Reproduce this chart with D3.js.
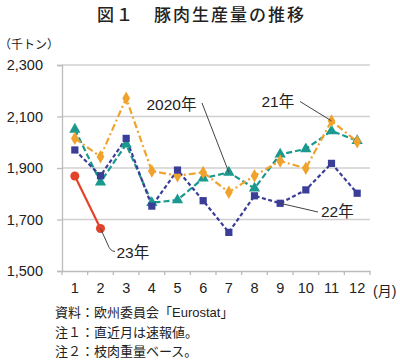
<!DOCTYPE html>
<html><head><meta charset="utf-8">
<script src="https://cdn.jsdelivr.net/npm/d3@7"></script>
<style>
body{margin:0;background:#fff;}
svg{display:block;font-family:"Liberation Sans",Arial,"Noto Sans CJK JP",sans-serif;}
.jp{font-family:"Noto Sans CJK JP",sans-serif;}
</style></head><body>
<svg id="c" width="400" height="362"></svg>
<script>
const months = [1,2,3,4,5,6,7,8,9,10,11,12];
const yTicks = [1500,1700,1900,2100,2300];
const s2020 = [2050,1845,1992,1765,1776,1860,1883,1821,1953,1974,2044,2006];
const s2021 = [2015,1944,2171,1888,1870,1883,1806,1870,1927,1899,2083,2002];
const s2022 = [1970,1870,2015,1752,1892,1773,1650,1792,1763,1815,1918,1802];
const s2023 = [1869,1665];

const svg = d3.select("#c");
const L=62,R=370,T=65,B=271;
const x = d3.scaleBand().domain(months).range([L,R]);
const y = d3.scaleLinear().domain([1500,2300]).range([B,T]);
const cx = m => x(m)+x.bandwidth()/2;

// title
svg.append("text").attr("class","jp").attr("x",97).attr("y",21)
  .attr("font-size",17).attr("font-weight",500).attr("letter-spacing",2).attr("fill","#222")
  .text("図１　豚肉生産量の推移");
svg.append("text").attr("class","jp").attr("x",-1).attr("y",49).attr("font-size",12).attr("fill","#222").text("（千トン）");

// grid
svg.append("g").selectAll("line").data(yTicks.filter(d=>d>1500)).join("line")
  .attr("x1",L).attr("x2",R).attr("y1",d=>y(d)).attr("y2",d=>y(d))
  .attr("stroke","#d0d0d0").attr("stroke-width",1.3);

// y axis
const ya = svg.append("g").attr("transform",`translate(${L},0)`)
  .call(d3.axisLeft(y).tickValues(yTicks).tickFormat(d3.format(",")).tickSize(5).tickPadding(14));
ya.selectAll("path,line").attr("stroke","#bbb").attr("stroke-width",1.3);
ya.selectAll("text").attr("font-size",14.5).attr("fill","#222").attr("font-family","Liberation Sans, Arial");

// x axis
const xa = svg.append("g").attr("transform",`translate(0,${B})`)
  .call(d3.axisBottom(x).tickSize(0).tickPadding(12));
xa.select(".domain").attr("stroke","#bbb").attr("stroke-width",1.3);
xa.selectAll("text").attr("font-size",14.5).attr("fill","#222").attr("font-family","Liberation Sans, Arial");
svg.append("g").selectAll("line").data(months.map(m=>x(m)).concat([R])).join("line")
  .attr("x1",d=>d).attr("x2",d=>d).attr("y1",B).attr("y2",B+4).attr("stroke","#bbb").attr("stroke-width",1.3);
svg.append("text").attr("x",373).attr("y",296).attr("font-size",14).attr("fill","#222").text("(月)");

// series
const series = [
  {v:s2020,c:"#1b998e",dash:"6,3",sym:"tri"},
  {v:s2021,c:"#f0a32c",dash:"7,3,2,3",sym:"dia"},
  {v:s2022,c:"#3b3e98",dash:"4,2.5",sym:"sq"},
  {v:s2023,c:"#e4432b",dash:null,sym:"cir"}
];
const line = d3.line().x((d,i)=>cx(months[i])).y(d=>y(d));
series.forEach(s=>{
  svg.append("path").attr("d",line(s.v)).attr("fill","none").attr("stroke",s.c)
    .attr("stroke-width",2.2).attr("stroke-dasharray",s.dash);
});
const symType={tri:d3.symbolTriangle,dia:d3.symbolDiamond,sq:d3.symbolSquare,cir:d3.symbolCircle};
const symSize={tri:55,dia:52,sq:52,cir:64};
series.forEach(s=>{
  svg.append("g").selectAll("path").data(s.v).join("path")
    .attr("transform",(d,i)=>`translate(${cx(months[i])},${y(d)})`)
    .attr("d",d3.symbol().type(symType[s.sym]).size(symSize[s.sym]))
    .attr("fill",s.c);
});

// annotations
const ann = svg.append("g");
function lead(x1,y1,x2,y2){ann.append("line").attr("x1",x1).attr("y1",y1).attr("x2",x2).attr("y2",y2).attr("stroke","#444").attr("stroke-width",1);}
lead(202,103,cx(7),y(s2020[6]));
lead(300,101.5,cx(11),y(s2021[10]));
lead(318,212,cx(9),y(s2022[8]));
ann.append("path").attr("d",`M${cx(2)},${y(s2023[1])} L108,245 Q110,251 115,251.5`).attr("fill","none").attr("stroke","#444").attr("stroke-width",1);
const lab=[["2020年",146.5,109.5],["21年",261.5,107],["22年",321,216.5],["23年",116.5,257.5]];
ann.selectAll("text").data(lab).join("text").attr("x",d=>d[1]).attr("y",d=>d[2])
  .attr("font-size",15.5).attr("fill","#222").text(d=>d[0]);

// notes
const notes=["資料：欧州委員会「Eurostat」","注１：直近月は速報値。","注２：枝肉重量ベース。"];
svg.append("g").selectAll("text").data(notes).join("text").attr("x",55).attr("y",(d,i)=>317+i*19.5)
  .attr("font-size",13).attr("fill","#222").text(d=>d);
</script></body></html>
